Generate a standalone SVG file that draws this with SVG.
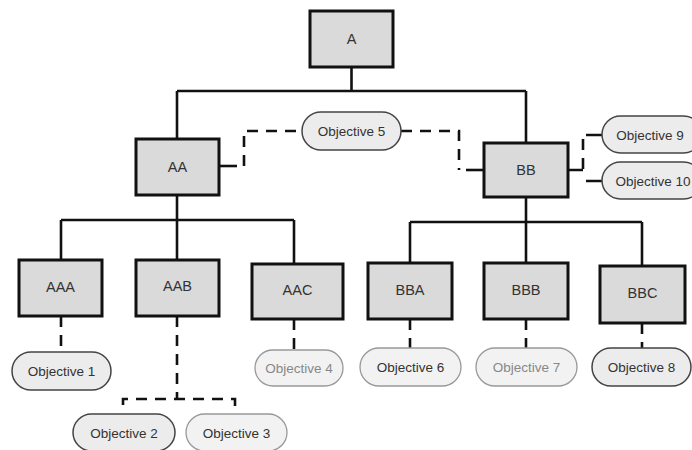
<svg xmlns="http://www.w3.org/2000/svg" width="692" height="450" viewBox="0 0 692 450">
<style>
.box{fill:#dadada;stroke:#111;stroke-width:3}
.obj{fill:#ececec;stroke:#444;stroke-width:1.5}
.objf{fill:#f2f2f2;stroke:#999;stroke-width:1.3}
.t{font-family:"Liberation Sans",Arial,sans-serif;font-size:13.5px;fill:#333;text-anchor:middle}
.b{font-size:14.5px}
.tf{font-family:"Liberation Sans",Arial,sans-serif;font-size:13.5px;fill:#888;text-anchor:middle}
.ln{fill:none;stroke:#111;stroke-width:2.6}
.ds{fill:none;stroke:#111;stroke-width:2.6;stroke-dasharray:11 8}
</style>
<rect width="692" height="450" fill="#fff"/>
<g id="connectors">
<path class="ln" d="M351.5 67V91M177 91H526M177 91V139M526 91V143"/>
<path class="ln" d="M177 195V220M61 220H294M61 220V260M177 220V260M294 220V264"/>
<path class="ln" d="M526 197V222M410 222H642M410 222V263M526 222V263M642 222V266"/>
<path class="ln" d="M219 166H237"/>
<path class="ds" d="M244 166V131H302"/>
<path class="ds" d="M401 131H459V170"/>
<path class="ln" d="M466 170H484"/>
<path class="ln" d="M568 170H583M586 135H602M586 181H602"/>
<path class="ds" d="M583 139V170"/>
<path class="ds" d="M61 316V352"/>
<path class="ds" d="M177 316V399"/>
<path class="ds" d="M123 405V399H235V414"/>
<path class="ds" d="M294 319V350"/>
<path class="ds" d="M410 319V348"/>
<path class="ds" d="M526 319V348"/>
<path class="ds" d="M642 323V348"/>
</g>
<g id="A"><rect class="box" x="310" y="11" width="83" height="56"/><text class="t b" x="351.5" y="44">A</text></g>
<g id="AA"><rect class="box" x="136" y="139" width="83" height="56"/><text class="t b" x="177.5" y="172">AA</text></g>
<g id="BB"><rect class="box" x="484" y="143" width="84" height="54"/><text class="t b" x="526" y="175">BB</text></g>
<g id="AAA"><rect class="box" x="19" y="260" width="83" height="56"/><text class="t b" x="60.5" y="292">AAA</text></g>
<g id="AAB"><rect class="box" x="136" y="260" width="83" height="56"/><text class="t b" x="177.5" y="291">AAB</text></g>
<g id="AAC"><rect class="box" x="252" y="264" width="91" height="55"/><text class="t b" x="297.5" y="295">AAC</text></g>
<g id="BBA"><rect class="box" x="368" y="263" width="84" height="56"/><text class="t b" x="410" y="295">BBA</text></g>
<g id="BBB"><rect class="box" x="484" y="263" width="84" height="56"/><text class="t b" x="526" y="295">BBB</text></g>
<g id="BBC"><rect class="box" x="600" y="266" width="85" height="57"/><text class="t b" x="642.5" y="298">BBC</text></g>
<g id="obj5"><rect class="obj" x="302" y="112" width="99" height="38" rx="19"/><text class="t" x="351.5" y="136">Objective 5</text></g>
<g id="obj9"><rect class="obj" x="602" y="116" width="100" height="37" rx="18.5"/><text class="t" x="650" y="139.5">Objective 9</text></g>
<g id="obj10"><rect class="obj" x="602" y="162" width="100" height="37" rx="18.5"/><text class="t" x="653" y="185.5">Objective 10</text></g>
<g id="obj1"><rect class="obj" x="12" y="352" width="99" height="38" rx="19"/><text class="t" x="61.5" y="376">Objective 1</text></g>
<g id="obj2"><rect class="obj" x="73" y="414" width="102" height="37" rx="18.5"/><text class="t" x="124" y="437.5">Objective 2</text></g>
<g id="obj3"><rect class="objf" x="186" y="414" width="101" height="37" rx="18.5"/><text class="t" x="236.5" y="437.5">Objective 3</text></g>
<g id="obj4"><rect class="objf" x="255" y="350" width="88" height="36" rx="18"/><text class="tf" x="299" y="373">Objective 4</text></g>
<g id="obj6"><rect class="objf" x="360" y="348" width="101" height="38" rx="19"/><text class="t" x="410.5" y="372">Objective 6</text></g>
<g id="obj7"><rect class="objf" x="476" y="348" width="101" height="38" rx="19"/><text class="tf" x="526.5" y="372">Objective 7</text></g>
<g id="obj8"><rect class="obj" x="592" y="348" width="99" height="38" rx="19"/><text class="t" x="641.5" y="372">Objective 8</text></g>
</svg>
